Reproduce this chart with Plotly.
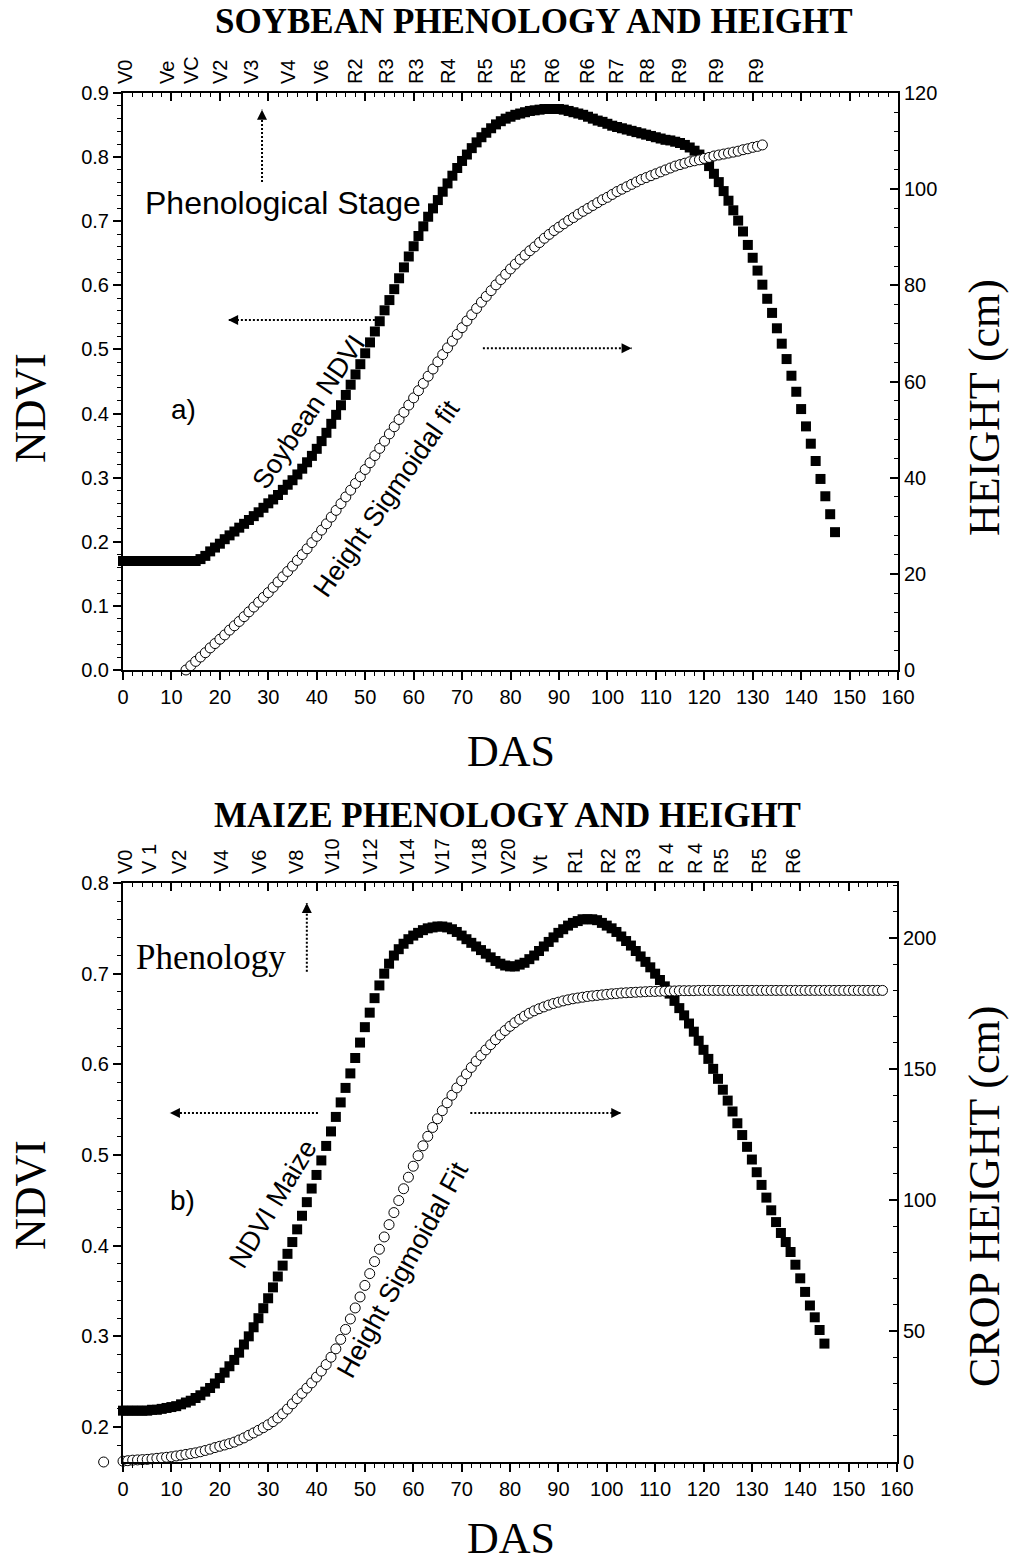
import plotly.graph_objects as go

# ---------------- DATA ----------------
# Soybean NDVI, one value per day after sowing (DAS 0..147)
soy_ndvi_first_das = 0
soy_ndvi = [
    0.170, 0.170, 0.170, 0.170, 0.170, 0.170, 0.170, 0.170, 0.170, 0.170,
    0.170, 0.170, 0.170, 0.170, 0.170, 0.170, 0.173, 0.178, 0.185, 0.191,
    0.197, 0.204, 0.210, 0.216, 0.222, 0.228, 0.234, 0.240, 0.246, 0.253,
    0.260, 0.266, 0.273, 0.281, 0.289, 0.296, 0.305, 0.314, 0.324, 0.334,
    0.345, 0.357, 0.370, 0.384, 0.398, 0.413, 0.429, 0.445, 0.461, 0.477,
    0.494, 0.511, 0.528, 0.544, 0.561, 0.577, 0.594, 0.611, 0.628, 0.645,
    0.661, 0.677, 0.692, 0.707, 0.720, 0.733, 0.746, 0.759, 0.771, 0.783,
    0.794, 0.804, 0.814, 0.823, 0.831, 0.838, 0.845, 0.851, 0.856, 0.860,
    0.863, 0.866, 0.868, 0.870, 0.872, 0.873, 0.874, 0.875, 0.875, 0.875,
    0.875, 0.874, 0.872, 0.870, 0.868, 0.866, 0.863, 0.860, 0.857, 0.855,
    0.852, 0.849, 0.847, 0.845, 0.843, 0.841, 0.839, 0.837, 0.835, 0.833,
    0.831, 0.829, 0.827, 0.826, 0.824, 0.822, 0.819, 0.815, 0.810, 0.804,
    0.796, 0.786, 0.774, 0.761, 0.747, 0.732, 0.717, 0.701, 0.684, 0.663,
    0.643, 0.623, 0.601, 0.579, 0.557, 0.533, 0.509, 0.485, 0.459, 0.434,
    0.407, 0.380, 0.353, 0.326, 0.298, 0.271, 0.243, 0.215,
]

# Soybean height sigmoidal fit (cm), DAS 13..132
soy_height_first_das = 13
soy_height = [
    0.0, 0.9, 1.8, 2.7, 3.6, 4.6, 5.5, 6.4, 7.3, 8.3,
    9.2, 10.1, 11.1, 12.1, 13.1, 14.1, 15.1, 16.1, 17.2, 18.3,
    19.4, 20.5, 21.6, 22.8, 24.0, 25.2, 26.5, 27.8, 29.1, 30.4,
    31.8, 33.2, 34.6, 36.0, 37.4, 38.8, 40.2, 41.7, 43.1, 44.6,
    46.1, 47.6, 49.1, 50.6, 52.1, 53.6, 55.1, 56.6, 58.1, 59.6,
    61.1, 62.6, 64.1, 65.6, 67.0, 68.4, 69.8, 71.2, 72.6, 73.9,
    75.2, 76.5, 77.7, 78.9, 80.1, 81.2, 82.3, 83.4, 84.4, 85.4,
    86.3, 87.2, 88.0, 88.9, 89.8, 90.6, 91.4, 92.1, 92.8, 93.5,
    94.1, 94.8, 95.4, 96.0, 96.6, 97.2, 97.8, 98.3, 98.9, 99.5,
    100.0, 100.5, 101.0, 101.5, 102.0, 102.4, 102.8, 103.2, 103.6, 104.0,
    104.4, 104.8, 105.1, 105.4, 105.7, 105.9, 106.1, 106.4, 106.6, 106.9,
    107.1, 107.3, 107.5, 107.7, 107.9, 108.2, 108.4, 108.7, 108.9, 109.2,
]

# Maize NDVI, DAS 0..145
maize_ndvi_first_das = 0
maize_ndvi = [
    0.218, 0.218, 0.218, 0.218, 0.218, 0.218, 0.219, 0.219, 0.220, 0.221,
    0.222, 0.223, 0.225, 0.227, 0.229, 0.232, 0.235, 0.239, 0.243, 0.248,
    0.254, 0.260, 0.267, 0.274, 0.282, 0.291, 0.300, 0.310, 0.320, 0.331,
    0.342, 0.354, 0.366, 0.378, 0.391, 0.404, 0.418, 0.433, 0.448, 0.463,
    0.478, 0.494, 0.510, 0.526, 0.542, 0.558, 0.574, 0.590, 0.607, 0.624,
    0.641, 0.657, 0.673, 0.687, 0.700, 0.711, 0.720, 0.727, 0.733, 0.738,
    0.742, 0.745, 0.748, 0.750, 0.751, 0.752, 0.752, 0.751, 0.749, 0.746,
    0.742, 0.738, 0.734, 0.730, 0.726, 0.722, 0.718, 0.714, 0.711, 0.709,
    0.708, 0.708, 0.710, 0.712, 0.716, 0.720, 0.725, 0.730, 0.735, 0.740,
    0.745, 0.749, 0.753, 0.756, 0.758, 0.760, 0.760, 0.760, 0.759, 0.756,
    0.753, 0.750, 0.746, 0.741, 0.736, 0.731, 0.725, 0.719, 0.713, 0.707,
    0.700, 0.693, 0.686, 0.678, 0.670, 0.662, 0.654, 0.645, 0.636, 0.626,
    0.616, 0.606, 0.595, 0.584, 0.572, 0.560, 0.548, 0.535, 0.522, 0.509,
    0.495, 0.481, 0.467, 0.453, 0.439, 0.426, 0.414, 0.404, 0.393, 0.379,
    0.364, 0.349, 0.334, 0.321, 0.307, 0.292,
]

# Maize height sigmoidal fit (cm), DAS 0..157
maize_height_first_das = 0
maize_height = [
    0.3, 0.5, 0.7, 0.8, 0.9, 1.0, 1.2, 1.4, 1.6, 1.8,
    2.0, 2.3, 2.6, 2.9, 3.2, 3.5, 3.9, 4.4, 4.9, 5.5,
    6.0, 6.5, 7.0, 7.6, 8.4, 9.2, 10.2, 11.1, 12.1, 13.1,
    14.2, 15.4, 16.8, 18.4, 20.2, 22.2, 24.2, 26.2, 28.2, 30.2,
    32.4, 34.7, 37.2, 40.0, 43.2, 46.8, 50.6, 54.6, 58.8, 63.0,
    67.4, 71.9, 76.5, 81.2, 85.9, 90.6, 95.2, 99.8, 104.3, 108.7,
    112.9, 116.9, 120.7, 124.3, 127.7, 131.0, 134.1, 137.1, 140.0, 142.8,
    145.5, 148.1, 150.6, 153.0, 155.2, 157.3, 159.3, 161.2, 163.0, 164.7,
    166.3, 167.7, 169.0, 170.2, 171.3, 172.2, 173.0, 173.7, 174.4, 175.0,
    175.5, 176.0, 176.4, 176.8, 177.1, 177.4, 177.7, 177.9, 178.1, 178.3,
    178.5, 178.7, 178.8, 179.0, 179.1, 179.2, 179.3, 179.4, 179.5, 179.6,
    179.6, 179.7, 179.7, 179.8, 179.8, 179.9, 179.9, 179.9, 179.9, 180.0,
    180.0, 180.0, 180.0, 180.0, 180.0, 180.0, 180.0, 180.0, 180.0, 180.0,
    180.0, 180.0, 180.0, 180.0, 180.0, 180.0, 180.0, 180.0, 180.0, 180.0,
    180.0, 180.0, 180.0, 180.0, 180.0, 180.0, 180.0, 180.0, 180.0, 180.0,
    180.0, 180.0, 180.0, 180.0, 180.0, 180.0, 180.0, 180.0,
]
# stray point drawn left of the axis in the original
maize_height_extra_das = [-4]
maize_height_extra = [0.0]

# Phenological stage labels (top axes)
soy_stage_das = [0.6, 9.1, 14.2, 20.2, 26.6, 34.1, 40.9, 47.9, 54.5, 60.5,
                 67.1, 74.9, 81.7, 88.6, 95.8, 101.8, 108.2, 114.8, 122.6, 130.7]
soy_stage_labels = ["V0", "Ve", "VC", "V2", "V3", "V4", "V6", "R2", "R3", "R3",
                    "R4", "R5", "R5", "R6", "R6", "R7", "R8", "R9", "R9", "R9"]
maize_stage_das = [0.5, 5.5, 11.6, 20.4, 28.2, 35.9, 43.3, 51.1, 58.8, 66.1,
                   73.7, 79.6, 86.3, 93.6, 100.4, 105.5, 112.4, 118.3, 123.7, 131.6, 138.7]
maize_stage_labels = ["V0", "V 1", "V2", "V4", "V6", "V8", "V10", "V12", "V14", "V17",
                      "V18", "V20", "Vt", "R1", "R2", "R3", "R 4", "R 4", "R5", "R5", "R6"]

# ---------------- STYLE ----------------
W, H = 1010, 1562
SANS = "Arial, Liberation Sans, sans-serif"
SERIF = "Times New Roman, Liberation Serif, serif"
TICKFONT = dict(family=SANS, size=20, color="black")
CLEAR = "rgba(0,0,0,0)"


def px_x(px):
    return px / W


def px_y(py):
    return 1 - py / H


X_DOM_TOP = [px_x(123), px_x(898)]
Y_DOM_TOP = [px_y(670), px_y(93)]
X_DOM_BOT = [px_x(123), px_x(897)]
Y_DOM_BOT = [px_y(1462), px_y(883)]
X_RANGE = [0, 160]
Y4_RANGE = [0, 221]

# a hidden, wider axis pair for the bottom panel (same scale) so the stray
# point just left of the y axis can be shown as in the original
bot_px_per_das = (897 - 123) / (X_RANGE[1] - X_RANGE[0])
bot_px_per_cm = (1462 - 883) / (Y4_RANGE[1] - Y4_RANGE[0])
X_DOM_WIDE = [px_x(93), px_x(897)]
X_RANGE_WIDE = [X_RANGE[0] - 30 / bot_px_per_das, X_RANGE[1]]
Y_DOM_WIDE = [px_y(1477), px_y(883)]
Y_RANGE_WIDE = [Y4_RANGE[0] - 15 / bot_px_per_cm, Y4_RANGE[1]]


def das_range(first, n):
    return list(range(first, first + n))


fig = go.Figure()

sq = dict(symbol="square", size=10, color="black", line=dict(width=0))
circ = dict(symbol="circle", size=10, color="white", line=dict(color="black", width=1))

fig.add_trace(go.Scatter(x=das_range(soy_ndvi_first_das, len(soy_ndvi)), y=soy_ndvi,
                         mode="markers", marker=sq, xaxis="x", yaxis="y",
                         cliponaxis=False, showlegend=False, name="Soybean NDVI"))
fig.add_trace(go.Scatter(x=das_range(soy_height_first_das, len(soy_height)), y=soy_height,
                         mode="markers", marker=circ, xaxis="x", yaxis="y2",
                         cliponaxis=False, showlegend=False, name="Height Sigmoidal fit"))
fig.add_trace(go.Scatter(x=das_range(maize_ndvi_first_das, len(maize_ndvi)), y=maize_ndvi,
                         mode="markers", marker=sq, xaxis="x2", yaxis="y3",
                         cliponaxis=False, showlegend=False, name="NDVI Maize"))
fig.add_trace(go.Scatter(x=das_range(maize_height_first_das, len(maize_height)),
                         y=maize_height,
                         mode="markers", marker=circ, xaxis="x2", yaxis="y4",
                         cliponaxis=False, showlegend=False, name="Height Sigmoidal Fit"))
fig.add_trace(go.Scatter(x=maize_height_extra_das, y=maize_height_extra,
                         mode="markers", marker=circ, xaxis="x7", yaxis="y8",
                         cliponaxis=False, showlegend=False, hoverinfo="skip"))
# invisible helpers so the extra top axes are drawn
for xa, ya in [("x3", "y"), ("x5", "y"), ("x4", "y3"), ("x6", "y3")]:
    fig.add_trace(go.Scatter(x=[None], y=[None], xaxis=xa, yaxis=ya, mode="markers",
                             showlegend=False, hoverinfo="skip"))

line_common = dict(showline=True, linewidth=2, linecolor="black", showgrid=False,
                   zeroline=False, tickcolor="black", tickfont=TICKFONT, automargin=False)


def bottom_x(domain, anchor):
    return dict(domain=domain, anchor=anchor, range=X_RANGE, tick0=0, dtick=10,
                ticks="outside", ticklen=8, tickwidth=1.5,
                minor=dict(dtick=2, tick0=0, ticks="outside", ticklen=4, tickwidth=1.2,
                           tickcolor="black"),
                **line_common)


def top_tick_x(over, anchor):
    d = dict(overlaying=over, side="top", anchor=anchor, range=X_RANGE, tick0=0, dtick=10,
             ticks="inside", ticklen=8, tickwidth=1.5, showticklabels=False,
             minor=dict(dtick=2, tick0=0, ticks="inside", ticklen=4, tickwidth=1.2,
                        tickcolor="black"))
    d.update({k: v for k, v in line_common.items() if k != "tickfont"})
    return d


def top_label_x(over, anchor, vals, texts):
    return dict(overlaying=over, side="top", anchor=anchor, range=X_RANGE,
                tickmode="array", tickvals=vals, ticktext=texts, tickangle=-90,
                ticks="", showline=False, showgrid=False, zeroline=False, automargin=False,
                ticklabelstandoff=8, tickfont=dict(family=SANS, size=20, color="black"))


fig.update_layout(
    width=W, height=H, autosize=False,
    margin=dict(l=0, r=0, t=0, b=0, autoexpand=False),
    paper_bgcolor="white", plot_bgcolor=CLEAR,
    showlegend=False,
    xaxis=bottom_x(X_DOM_TOP, "y"),
    xaxis3=top_tick_x("x", "y"),
    xaxis5=top_label_x("x", "y", soy_stage_das, soy_stage_labels),
    yaxis=dict(domain=Y_DOM_TOP, anchor="x", range=[0, 0.9], tick0=0, dtick=0.1,
               tickformat=".1f", ticks="outside", ticklen=8, tickwidth=1.5,
               minor=dict(dtick=0.02, ticks="outside", ticklen=4, tickwidth=1.2,
                          tickcolor="black"),
               **line_common),
    yaxis2=dict(overlaying="y", side="right", anchor="x", range=[0, 120], tick0=0, dtick=20,
                ticks="inside", ticklen=8, tickwidth=1.5,
                minor=dict(dtick=4, ticks="inside", ticklen=4, tickwidth=1.2,
                           tickcolor="black"),
                **line_common),
    xaxis2=bottom_x(X_DOM_BOT, "y3"),
    xaxis4=top_tick_x("x2", "y3"),
    xaxis6=top_label_x("x2", "y3", maize_stage_das, maize_stage_labels),
    yaxis3=dict(domain=Y_DOM_BOT, anchor="x2", range=[0.1614, 0.8], tick0=0, dtick=0.1,
                tickformat=".1f", ticks="outside", ticklen=8, tickwidth=1.5,
                minor=dict(dtick=0.02, tick0=0, ticks="outside", ticklen=4, tickwidth=1.2,
                           tickcolor="black"),
                **line_common),
    yaxis4=dict(overlaying="y3", side="right", anchor="x2", range=Y4_RANGE, tick0=0, dtick=50,
                ticks="inside", ticklen=8, tickwidth=1.5,
                minor=dict(dtick=10, tick0=0, ticks="inside", ticklen=4, tickwidth=1.2,
                           tickcolor="black"),
                **line_common),
    xaxis7=dict(domain=X_DOM_WIDE, anchor="y8", range=X_RANGE_WIDE, visible=False,
                automargin=False, showgrid=False, zeroline=False),
    yaxis8=dict(domain=Y_DOM_WIDE, anchor="x7", range=Y_RANGE_WIDE, visible=False,
                automargin=False, showgrid=False, zeroline=False),
)

ann = []


def paper_text(text, x, y, size, family, angle=0, bold=False):
    ann.append(dict(text=("<b>%s</b>" % text) if bold else text, x=x, y=y,
                    xref="paper", yref="paper", showarrow=False, textangle=angle,
                    xanchor="center", yanchor="middle",
                    font=dict(family=family, size=size, color="black")))


def data_text(text, x, y, xref, yref, size, family, angle=0):
    ann.append(dict(text=text, x=x, y=y, xref=xref, yref=yref, showarrow=False,
                    textangle=angle, xanchor="center", yanchor="middle",
                    font=dict(family=family, size=size, color="black")))


# titles
paper_text("SOYBEAN PHENOLOGY AND HEIGHT", px_x(534), px_y(22), 35, SERIF, bold=True)
paper_text("MAIZE PHENOLOGY AND HEIGHT", px_x(507), px_y(815), 35, SERIF, bold=True)
# axis titles
paper_text("NDVI", px_x(30), px_y(408), 44, SERIF, angle=-90)
paper_text("HEIGHT (cm)", px_x(984), px_y(408), 44, SERIF, angle=-90)
paper_text("DAS", px_x(511), px_y(751), 44, SERIF)
paper_text("NDVI", px_x(30), px_y(1195), 44, SERIF, angle=-90)
paper_text("CROP HEIGHT (cm)", px_x(984), px_y(1197), 44, SERIF, angle=-90)
paper_text("DAS", px_x(511), px_y(1538), 44, SERIF)

# in-plot labels, top panel
data_text("Phenological Stage", 33.0, 0.729, "x", "y", 32, SANS)
data_text("a)", 12.4, 0.406, "x", "y", 28, SANS)
data_text("Soybean NDVI", 38.3, 0.403, "x", "y", 27, SANS, angle=-56)
data_text("Height Sigmoidal fit", 54.5, 0.268, "x", "y", 27, SANS, angle=-55)
# bottom panel
data_text("Phenology", 18.2, 0.718, "x2", "y3", 35, SERIF)
data_text("b)", 12.4, 0.450, "x2", "y3", 28, SANS)
data_text("NDVI Maize", 31.0, 0.446, "x2", "y3", 27, SANS, angle=-59)
data_text("Height Sigmoidal Fit", 57.8, 0.373, "x2", "y3", 27, SANS, angle=-61)

# dotted arrows: (x0, y0) tail -> (x1, y1) head
arrows = [
    ("x", "y", 28.7, 0.761, 28.7, 0.874),
    ("x", "y", 52.0, 0.546, 21.7, 0.546),
    ("x", "y", 74.3, 0.502, 105.0, 0.502),
    ("x2", "y3", 38.0, 0.702, 38.0, 0.778),
    ("x2", "y3", 40.3, 0.5464, 9.7, 0.5464),
    ("x2", "y3", 71.8, 0.5464, 103.0, 0.5464),
]
shapes = []
for xr, yr, x0, y0, x1, y1 in arrows:
    shapes.append(dict(type="line", xref=xr, yref=yr, x0=x0, y0=y0, x1=x1, y1=y1,
                       line=dict(color="black", width=2, dash="2px,2px")))
    if x0 == x1:
        ax, ay = 0, (10 if y1 > y0 else -10)
    else:
        ax, ay = (-10 if x1 > x0 else 10), 0
    ann.append(dict(text="", x=x1, y=y1, xref=xr, yref=yr, showarrow=True,
                    ax=ax, ay=ay, arrowhead=2, arrowsize=1, arrowwidth=2,
                    arrowcolor="black"))

fig.update_layout(annotations=ann, shapes=shapes)

fig.write_html("out.html", config={"displayModeBar": False},
               post_script="document.body.style.margin='0px';document.body.style.overflow='hidden';")
